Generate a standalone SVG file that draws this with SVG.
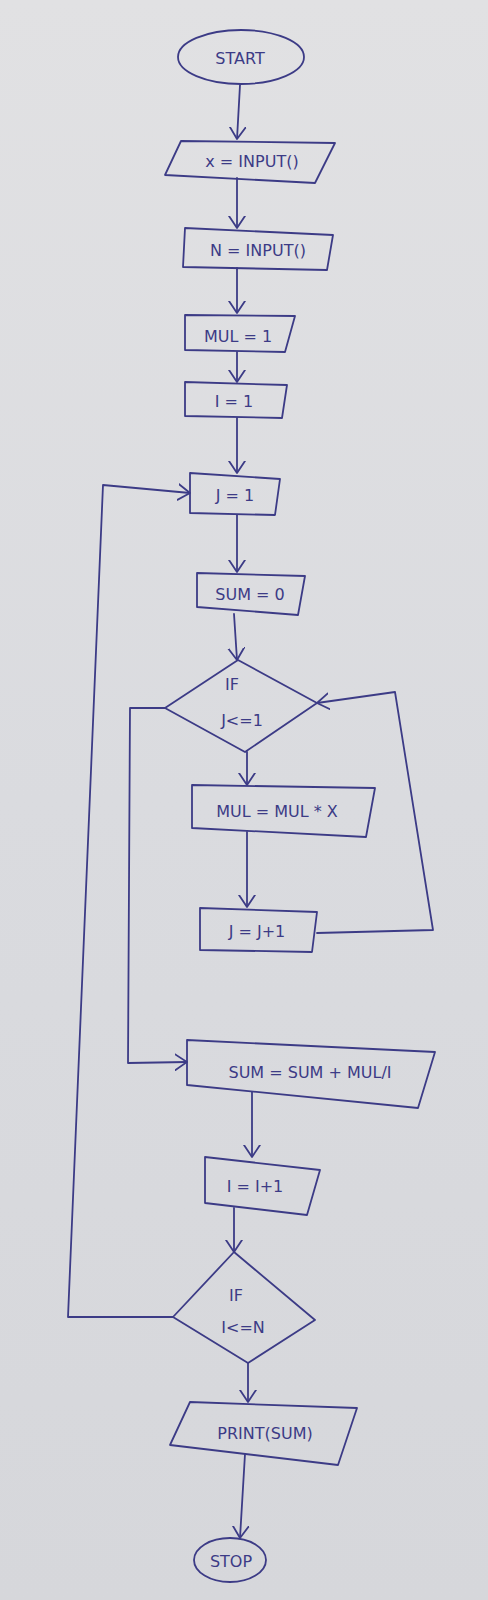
<svg xmlns="http://www.w3.org/2000/svg" width="488" height="1600" viewBox="0 0 488 1600">
<style>
.s{fill:none;stroke:#3c3b86;stroke-width:1.8;stroke-linejoin:round;stroke-linecap:round}
.t{font-family:"DejaVu Sans","Liberation Sans",sans-serif;font-size:16px;fill:#3c3b86;text-anchor:middle;dominant-baseline:central}
.c{fill:none;stroke:#3c3b86;stroke-width:1.8;stroke-linejoin:round;stroke-linecap:round;marker-end:url(#ah)}
</style>
<defs>
<linearGradient id="bg" x1="0" y1="0" x2="0" y2="1">
<stop offset="0" stop-color="#e1e1e3"/>
<stop offset="0.5" stop-color="#dadbdf"/>
<stop offset="1" stop-color="#d6d7db"/>
</linearGradient>
<marker id="ah" viewBox="0 0 12 18" refX="12" refY="9" markerWidth="12" markerHeight="18" markerUnits="userSpaceOnUse" orient="auto">
<path d="M0,1 L12,9 L0,17" fill="none" stroke="#3c3b86" stroke-width="1.8" stroke-linecap="round" stroke-linejoin="round"/>
</marker>
</defs>
<rect width="488" height="1600" fill="url(#bg)"/>

<g id="connectors">
<path class="c" d="M240,85 L237,139"/>
<path class="c" d="M237,178 L237,228"/>
<path class="c" d="M237,268 L237,313"/>
<path class="c" d="M237,352 L237,382"/>
<path class="c" d="M237,418 L237,473"/>
<path class="c" d="M237,515 L237,572"/>
<path class="c" d="M234,614 L237,660"/>
<path class="c" d="M247,752 L247,785"/>
<path class="c" d="M247,832 L247,907"/>
<path class="c" d="M317,933 L433,930 L395,692 L317,703"/>
<path class="c" d="M165,708 L130,708 L128,1063 L187,1062"/>
<path class="c" d="M252,1092 L252,1157"/>
<path class="c" d="M234,1208 L234,1252"/>
<path class="c" d="M173,1317 L68,1317 L103,485 L190,493"/>
<path class="c" d="M248,1363 L248,1402"/>
<path class="c" d="M245,1454 L240,1538"/>
</g>

<g id="start">
<ellipse class="s" cx="241" cy="57" rx="63" ry="27"/>
<text class="t" x="240" y="58">START</text>
</g>
<g id="input-x">
<path class="s" d="M181,141 L335,143 L315,183 L165,175 Z"/>
<text class="t" x="252" y="161">x = INPUT()</text>
</g>
<g id="input-n">
<path class="s" d="M185,228 L333,235 L327,270 L183,267 Z"/>
<text class="t" x="258" y="250">N = INPUT()</text>
</g>
<g id="mul-init">
<path class="s" d="M185,315 L295,316 L285,352 L185,350 Z"/>
<text class="t" x="238" y="336">MUL = 1</text>
</g>
<g id="i-init">
<path class="s" d="M185,382 L287,385 L282,418 L185,416 Z"/>
<text class="t" x="234" y="401">I = 1</text>
</g>
<g id="j-init">
<path class="s" d="M190,473 L280,479 L275,515 L190,513 Z"/>
<text class="t" x="235" y="495">J = 1</text>
</g>
<g id="sum-init">
<path class="s" d="M197,573 L305,576 L298,615 L197,607 Z"/>
<text class="t" x="250" y="594">SUM = 0</text>
</g>
<g id="if-j">
<path class="s" d="M238,660 L317,703 L245,752 L165,708 Z"/>
<text class="t" x="232" y="684">IF</text>
<text class="t" x="242" y="720">J&lt;=1</text>
</g>
<g id="mul-update">
<path class="s" d="M192,785 L375,788 L366,837 L192,828 Z"/>
<text class="t" x="277" y="811">MUL = MUL * X</text>
</g>
<g id="j-inc">
<path class="s" d="M200,908 L317,912 L312,952 L200,950 Z"/>
<text class="t" x="257" y="931">J = J+1</text>
</g>
<g id="sum-update">
<path class="s" d="M187,1040 L435,1052 L418,1108 L187,1085 Z"/>
<text class="t" x="310" y="1072">SUM = SUM + MUL/I</text>
</g>
<g id="i-inc">
<path class="s" d="M205,1157 L320,1170 L307,1215 L205,1203 Z"/>
<text class="t" x="255" y="1186">I = I+1</text>
</g>
<g id="if-i">
<path class="s" d="M234,1252 L315,1320 L248,1363 L173,1317 Z"/>
<text class="t" x="236" y="1295">IF</text>
<text class="t" x="243" y="1327">I&lt;=N</text>
</g>
<g id="print">
<path class="s" d="M190,1402 L357,1408 L338,1465 L170,1445 Z"/>
<text class="t" x="265" y="1433">PRINT(SUM)</text>
</g>
<g id="stop">
<ellipse class="s" cx="230" cy="1560" rx="36" ry="22"/>
<text class="t" x="231" y="1561">STOP</text>
</g>
</svg>
